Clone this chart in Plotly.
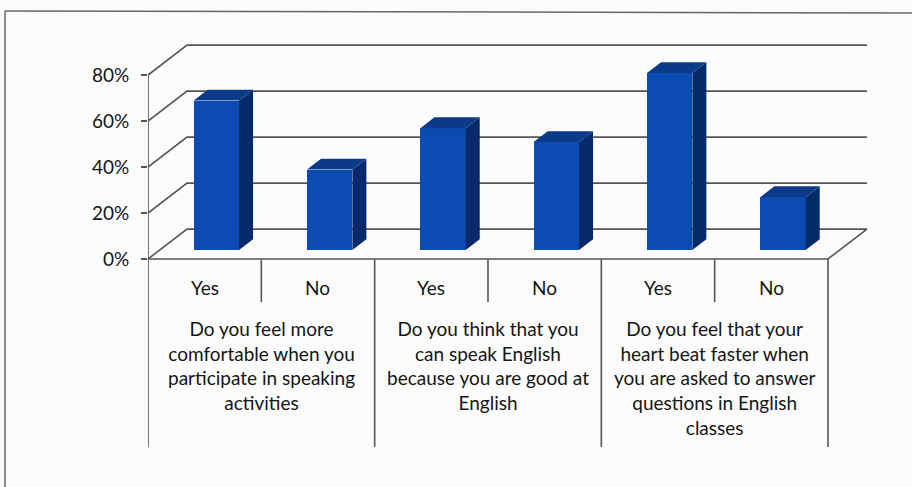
import plotly.graph_objects as go

# ---- data ----
answers = ["Yes", "No", "Yes", "No", "Yes", "No"]
values = [65, 35, 53, 47, 77, 23]
questions = [
    "Do you feel more<br>comfortable when you<br>participate in speaking<br>activities",
    "Do you think that you<br>can speak English<br>because you are good at<br>English",
    "Do you feel that your<br>heart beat faster when<br>you are asked to answer<br>questions in English<br>classes",
]
tick_vals = [0, 20, 40, 60, 80]
tick_text = ["0%", "20%", "40%", "60%", "80%"]

# ---- 3D look parameters (axis units) ----
DX = 0.344      # depth shift in category units
DY = 13.0       # depth shift in percent units
F0, F1 = 0.30, 0.66   # bar depth (front/back fraction)
BW = 0.40       # bar width
N = len(values)
YLOW = -81.7    # bottom of separator lines
YSHORT = -18.7  # bottom of short separators

FRONT = "#0c4cb2"
SIDE = "#062a6a"
TOP = "#0a3a88"
LINE = "#555555"
TXT = "#151515"
FONT = "Lato"

fig = go.Figure()

xc = [i + 0.5 + F0 * DX for i in range(N)]
base = F0 * DY
fig.add_trace(go.Bar(x=xc, y=values, base=[base] * N, width=BW,
                     marker=dict(color=FRONT, line=dict(width=0)),
                     hoverinfo="skip", showlegend=False))

bd = F1 - F0
sx, sy, tx, ty = [], [], [], []
for c, v in zip(xc, values):
    xl, xr = c - BW / 2, c + BW / 2
    b, t = base, base + v
    sx += [xr, xr + bd * DX, xr + bd * DX, xr, xr, None]
    sy += [b, b + bd * DY, t + bd * DY, t, b, None]
    tx += [xl, xr, xr + bd * DX, xl + bd * DX, xl, None]
    ty += [t, t, t + bd * DY, t + bd * DY, t, None]
fig.add_trace(go.Scatter(x=sx, y=sy, fill="toself", fillcolor=SIDE, mode="lines",
                         line=dict(width=0, color=SIDE), hoverinfo="skip", showlegend=False))
fig.add_trace(go.Scatter(x=tx, y=ty, fill="toself", fillcolor=TOP, mode="lines",
                         line=dict(width=0, color=TOP), hoverinfo="skip", showlegend=False))

shapes = []
ln = dict(color=LINE, width=1.6)
# back wall gridlines (with left-side diagonal)
for v in tick_vals:
    shapes.append(dict(type="path", xref="x", yref="y", layer="below", line=ln,
                       path=f"M 0,{v} L {DX},{v + DY} L {N + DX},{v + DY}"))
# floor front edge and right diagonal
shapes.append(dict(type="path", xref="x", yref="y", layer="below", line=ln,
                   path=f"M 0,0 L {N},0 L {N + DX},{DY}"))
# front vertical axis
shapes.append(dict(type="line", xref="x", yref="y", layer="below", line=ln,
                   x0=0, x1=0, y0=tick_vals[-1], y1=0))
# category separators
for i in range(N + 1):
    yb = YLOW if i % 2 == 0 else YSHORT
    shapes.append(dict(type="line", xref="x", yref="y", layer="below", line=ln,
                       x0=i, x1=i, y0=0, y1=yb))
# outer frame (left + top)
shapes.append(dict(type="line", xref="paper", yref="paper", layer="below",
                   line=dict(color="#666", width=1.5),
                   x0=(5 - 148) / 732, x1=(5 - 148) / 732, y0=(450 - 11) / 410, y1=-0.2))
shapes.append(dict(type="line", xref="paper", yref="paper", layer="below",
                   line=dict(color="#666", width=1.5),
                   x0=(5 - 148) / 732, x1=(912 - 148) / 732, y0=(450 - 11) / 410, y1=(450 - 13) / 410))

ann = []
for i, a in enumerate(answers):
    ann.append(dict(x=i + 0.5, y=-12.6, xref="x", yref="y", text=a, showarrow=False,
                    font=dict(family=FONT, size=19, color=TXT)))
for g, q in enumerate(questions):
    ann.append(dict(x=2 * g + 1, y=-24.5, xref="x", yref="y", text=q, showarrow=False,
                    yanchor="top", align="center",
                    font=dict(family=FONT, size=19, color=TXT)))

fig.update_layout(
    width=912, height=487,
    margin=dict(l=148, r=32, t=40, b=37),
    paper_bgcolor="#fcfcfc", plot_bgcolor="rgba(0,0,0,0)",
    shapes=shapes, annotations=ann,
    xaxis=dict(range=[0, 732 / 113.33], visible=False, fixedrange=True),
    yaxis=dict(range=[-(450 - 259) / 2.3, (259 - 40) / 2.3], tickvals=tick_vals,
               ticktext=tick_text, ticks="outside", ticklen=6, tickcolor=LINE, tickwidth=1.6,
               showgrid=False, zeroline=False, showline=False, fixedrange=True,
               ticklabelstandoff=8,
               tickfont=dict(family=FONT, size=19, color=TXT)),
    bargap=0,
)

fig.write_html("out.html")
